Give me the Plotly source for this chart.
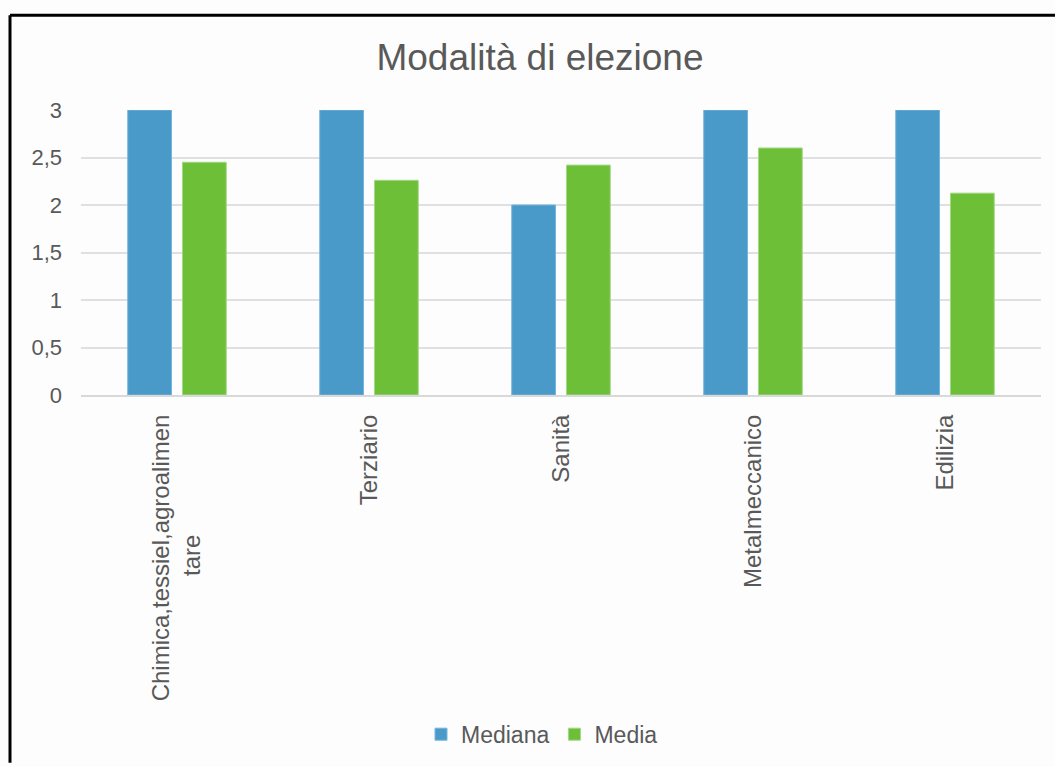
import plotly.graph_objects as go

NB = "\u00a0"
categories = ["Chimica,tessiel,agroalimen<br>tare" + NB * 18, "Terziario", "Sanità", "Metalmeccanico", "Edilizia"]
mediana = [3, 3, 2, 3, 3]
media = [2.45, 2.26, 2.42, 2.60, 2.125]
y_ticks = [0, 0.5, 1, 1.5, 2, 2.5, 3]
y_tick_labels = ["0", "0,5", "1", "1,5", "2", "2,5", "3"]

W, H = 1055, 767
L, R, T, B = 81, 14, 110, 368
pw, ph = W - L - R, H - T - B

def px_x(px):
    return (px - L) / pw

def px_y(py):
    return (H - B - py) / ph

FONT = "Liberation Sans, Arial, sans-serif"
GREY = "#595959"

fig = go.Figure()
fig.add_trace(go.Bar(x=categories, y=mediana, name="Mediana",
                     marker=dict(color="#4a9ac9", line=dict(color="#76b4dc", width=1))))
fig.add_trace(go.Bar(x=categories, y=media, name="Media",
                     marker=dict(color="#6ebf38", line=dict(color="#a3d885", width=1))))

fig.update_layout(
    width=W, height=H,
    margin=dict(l=L, r=R, t=T, b=B),
    paper_bgcolor="#fdfdfd", plot_bgcolor="#fdfdfd",
    barmode="group", bargap=0.43, bargroupgap=0.2,
    font=dict(family=FONT, color=GREY),
    title=dict(text="Modalità di elezione", font=dict(size=37, color=GREY, family=FONT),
               x=540 / W, xref="container", xanchor="center",
               y=1 - 57 / H, yref="container", yanchor="middle"),
    legend=dict(orientation="h", x=px_x(542), xanchor="center", y=px_y(743), yanchor="middle",
                font=dict(size=23, color=GREY), bgcolor="rgba(0,0,0,0)", itemwidth=30),
    showlegend=True,
)
fig.update_xaxes(showgrid=False, showline=True, linecolor="#d9d9d9", linewidth=2,
                 tickangle=-90, tickfont=dict(size=24, color=GREY), ticklabelstandoff=8,
                 ticks="")
fig.update_yaxes(range=[0, 3], tickvals=y_ticks, ticktext=y_tick_labels,
                 showgrid=True, gridcolor="#e0e0e0", gridwidth=2, zeroline=False,
                 tickfont=dict(size=22, color=GREY), ticklabelstandoff=18, showline=False)

# outer chart border (left and top)
fig.add_shape(type="line", xref="paper", yref="paper",
              x0=px_x(10), x1=px_x(W + 5), y0=px_y(14), y1=px_y(14),
              line=dict(color="black", width=3))
fig.add_shape(type="line", xref="paper", yref="paper",
              x0=px_x(10), x1=px_x(10), y0=px_y(14), y1=px_y(H + 5),
              line=dict(color="black", width=3))

fig.write_html("out.html")
